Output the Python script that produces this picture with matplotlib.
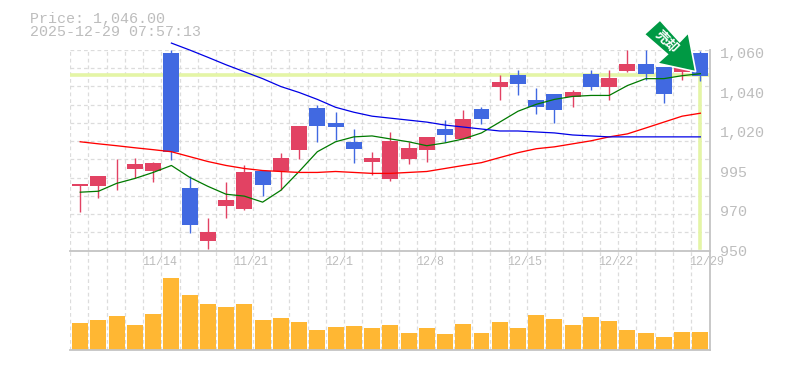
import numpy as np
import matplotlib
matplotlib.use("Agg")
import matplotlib.pyplot as plt
from matplotlib.patches import Polygon

W, H = 785, 370
FONT = ["Liberation Mono", "DejaVu Sans Mono"]
GREY = "#bdbdbd"
GRID = "#dcdcdc"
BLUE = "#4169e1"
RED = "#e24263"
LIME = "#e4f5a6"
ORANGE = "#ffb733"

title_price = "Price: 1,046.00"
title_time = "2025-12-29 07:57:13"
price_ticks = [1060, 1040, 1020, 995, 970, 950]
price_tick_labels = ["1,060", "1,040", "1,020", "995", "970", "950"]
date_idx = [5, 10, 15, 20, 25, 30, 35]
date_labels = ["11/14", "11/21", "12/1", "12/8", "12/15", "12/22", "12/29"]
current_line = 1048.8
arrow_text = "売却"

opens = [985.6, 985.6, 991.4, 996.3, 995.0, 1060.0, 984.4, 955.0, 973.1, 971.3, 995.0, 995.6,
         1008.8, 1032.0, 1024.5, 1013.8, 1001.3, 990.0, 1003.1, 1008.8, 1021.5, 1015.6, 1031.5,
         1043.0, 1049.0, 1036.0, 1039.0, 1037.5, 1049.5, 1043.0, 1051.0, 1054.5, 1053.0, 1050.5, 1060.0]
closes = [986.9, 991.9, 991.7, 1000.0, 1000.6, 1007.5, 963.0, 959.5, 976.9, 994.4, 986.3, 1003.8,
          1023.0, 1023.0, 1022.5, 1009.4, 1003.8, 1014.4, 1010.0, 1016.9, 1018.1, 1026.5, 1026.5,
          1045.5, 1044.5, 1032.5, 1031.0, 1040.0, 1043.0, 1047.5, 1054.5, 1049.5, 1039.0, 1053.0, 1048.5]
highs = [986.9, 991.9, 1003.1, 1003.8, 1001.3, 1061.5, 991.9, 966.5, 988.1, 998.8, 995.0, 1006.9,
         1023.0, 1033.5, 1030.0, 1021.5, 1007.5, 1020.0, 1013.8, 1016.9, 1026.0, 1031.0, 1032.5,
         1049.0, 1051.5, 1042.5, 1039.0, 1041.5, 1051.5, 1051.5, 1061.5, 1061.5, 1053.0, 1053.0, 1061.0]
lows = [969.5, 978.1, 983.1, 990.6, 988.1, 1002.5, 959.0, 951.0, 966.5, 970.6, 979.4, 983.1,
        1003.1, 1013.8, 1015.0, 1000.6, 992.5, 988.8, 1000.0, 1001.3, 1013.8, 1015.6, 1024.0,
        1036.0, 1038.5, 1029.0, 1024.5, 1032.5, 1041.0, 1036.0, 1050.5, 1046.5, 1034.5, 1046.5, 1046.0]
ma_green = [981.9, 982.5, 987.5, 990.6, 994.4, 998.8, 991.3, 985.6, 980.6, 979.4, 975.6, 983.1,
            995.0, 1007.5, 1013.8, 1016.9, 1017.5, 1015.6, 1013.8, 1011.3, 1013.1, 1015.6, 1019.4,
            1025.0, 1030.5, 1034.0, 1036.5, 1038.0, 1038.5, 1038.5, 1043.5, 1047.0, 1047.0, 1048.5, 1049.5]
ma_red = [1013.8, 1012.5, 1011.3, 1010.0, 1008.8, 1007.5, 1004.4, 1001.3, 998.8, 996.9, 995.6, 995.0,
          994.4, 994.4, 995.0, 994.4, 993.8, 993.8, 994.4, 995.0, 996.9, 998.8, 1000.6,
          1003.8, 1006.9, 1009.4, 1010.6, 1012.5, 1014.4, 1016.9, 1018.8, 1022.0, 1025.0, 1028.0, 1029.5]
ma_blue = [1065.0, 1061.5, 1057.8, 1054.0, 1050.5, 1047.0, 1043.0, 1040.0, 1036.5, 1032.5, 1030.0,
           1028.0, 1027.0, 1026.0, 1025.0, 1023.5, 1022.5, 1021.5, 1020.5, 1020.5, 1020.0, 1019.4,
           1018.1, 1017.5, 1016.9, 1016.9, 1016.9, 1016.9, 1016.9, 1016.9]
volumes = [27, 30, 34, 25, 36, 72, 55, 46, 43, 46, 30, 32, 28, 20, 23, 24, 22, 25,
           17, 22, 16, 26, 17, 28, 22, 35, 31, 25, 33, 29, 20, 17, 13, 18, 18]

plt.rcParams["font.family"] = FONT
fig = plt.figure(figsize=(W / 100, H / 100), dpi=100, facecolor="white")


def box(x0, y0, x1, y1):
    return [x0 / W, 1 - y1 / H, (x1 - x0) / W, (y1 - y0) / H]


# the printed price labels are not evenly spaced, so the scale follows them
scale_v = [900, 950, 970, 995, 1020, 1060, 1100]
scale_p = [-353, -253, -213, -173, -133, -53, 27]
ax = fig.add_axes(box(70, 50, 709.5, 250.5))
ax.set_yscale("function", functions=(lambda v: np.interp(v, scale_v, scale_p),
                                     lambda p: np.interp(p, scale_p, scale_v)))
axv = fig.add_axes(box(70, 250.5, 709.5, 349.5))

n = len(opens)
xs = np.arange(n)
xl = (-0.56, 34.5)
ax.set_xlim(xl)
axv.set_xlim(xl)
ax.set_ylim(951.25, 1061.5)
axv.set_ylim(0, 99)

for a in (ax, axv):
    a.patch.set_alpha(0)
    a.set_xticks([])
    for s in ("top", "left"):
        a.spines[s].set_visible(False)
    for s in ("bottom", "right"):
        a.spines[s].set_color("#c4c4c4")
        a.spines[s].set_linewidth(1.3)
    for fx in np.linspace(0, 1, 36)[:-1]:
        a.axvline(fx * (xl[1] - xl[0]) + xl[0], color=GRID, lw=0.9, ls=(0, (3, 2.4)), zorder=0)

for fy in np.linspace(0, 1, 12)[1:]:
    ax.plot([0, 1], [fy, fy], transform=ax.transAxes, color=GRID, lw=0.9, ls=(0, (3, 2.4)), zorder=0)

ax.axhline(current_line, color=LIME, lw=2.6, zorder=1)
ax.plot([xs[-1], xs[-1]], [951.5, current_line], color=LIME, lw=2.6, zorder=1)

for x, o, c, h, l in zip(xs, opens, closes, highs, lows):
    col = RED if c >= o else BLUE
    ax.plot([x, x], [l, h], color=col, lw=1.0, zorder=2, solid_capstyle="butt", clip_on=False)
    bottom, top = min(o, c), max(o, c)
    ax.bar(x, top - bottom, bottom=bottom, width=0.875, color=col, lw=0, zorder=3, clip_on=False)

ax.plot(xs, ma_green, color="#007a00", lw=0.9, zorder=4)
ax.plot(xs, ma_red, color="#ff0000", lw=0.95, zorder=4)
ax.plot(xs[n - len(ma_blue):], ma_blue, color="#0000e6", lw=0.9, zorder=4, clip_on=False)

ax.yaxis.tick_right()
ax.set_yticks(price_ticks, price_tick_labels)
ax.minorticks_off()
ax.tick_params(axis="y", length=0, pad=7.6, labelsize=10.8, labelcolor=GREY)
axv.set_yticks([])

for i, t in zip(date_idx, date_labels):
    ax.annotate(t, xy=(i - 1.59, 0), xycoords=ax.get_xaxis_transform(), xytext=(0, -8.1),
                textcoords="offset points", color=GREY, fontsize=8.4, ha="left", va="center",
                annotation_clip=False)

axv.bar(xs, volumes, width=0.875, color=ORANGE, lw=0, zorder=2)

fig.text(29.5 / W, 1 - 18.5 / H, title_price, color=GREY, fontsize=10.8, ha="left", va="center")
fig.text(29.5 / W, 1 - 32.5 / H, title_time, color=GREY, fontsize=10.8, ha="left", va="center")

arrow_shape = np.array([[644.3, 34.3], [660, 20], [679.7, 41.7], [688.3, 32.7],
                        [695.7, 71.7], [657.3, 63.3], [667.3, 54.3]])
arrow_xy = np.column_stack([arrow_shape[:, 0] / W, 1 - arrow_shape[:, 1] / H])
fig.add_artist(Polygon(arrow_xy, closed=True, transform=fig.transFigure, facecolor="#009944",
                       edgecolor="white", lw=1.2, zorder=10))
fig.text(666.5 / W, 1 - 41.5 / H, arrow_text, color="white", fontsize=9.5, rotation=-45,
         rotation_mode="anchor", ha="center", va="center", fontweight="bold",
         family=["Noto Sans CJK JP", "DejaVu Sans"], zorder=11)

fig.savefig("out.png", dpi=100, facecolor="white")
